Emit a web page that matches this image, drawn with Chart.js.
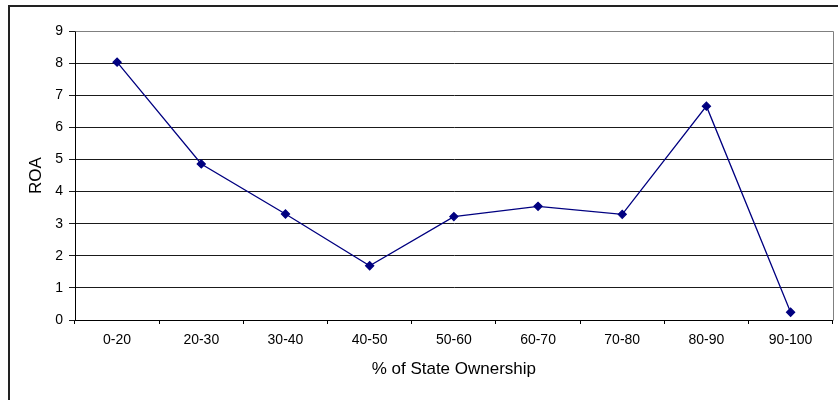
<!DOCTYPE html>
<html>
<head>
<meta charset="utf-8">
<script src="https://cdn.jsdelivr.net/npm/chart.js@4/dist/chart.umd.min.js"></script>
<style>
  body { margin: 0; background: #fff; }
  #frame { position: absolute; left: 8px; top: 5px; width: 900px; height: 500px;
           border-left: 2px solid #222; border-top: 2px solid #222; }
  #roaChart { position: absolute; left: 0; top: 0; }
</style>
</head>
<body>
<div id="frame"></div>
<canvas id="roaChart" width="838" height="400"></canvas>
<script>
var ownershipBands = ["0-20", "20-30", "30-40", "40-50", "50-60", "60-70", "70-80", "80-90", "90-100"];
var roaValues = [8.03, 4.86, 3.30, 1.69, 3.22, 3.54, 3.29, 6.66, 0.24];
var yTicks = [0, 1, 2, 3, 4, 5, 6, 7, 8, 9];

// gray plot-area frame (top/right edges), like Excel
var plotFrame = {
  id: 'plotFrame',
  beforeDatasetsDraw: function (chart) {
    var a = chart.chartArea;
    var ctx = chart.ctx;
    ctx.save();
    ctx.strokeStyle = '#808080';
    ctx.lineWidth = 1;
    ctx.beginPath();
    ctx.moveTo(Math.round(a.left) + 0.5, Math.round(a.top) + 0.5);
    ctx.lineTo(Math.round(a.right) + 0.5, Math.round(a.top) + 0.5);
    ctx.lineTo(Math.round(a.right) + 0.5, Math.round(a.bottom) + 0.5);
    ctx.stroke();
    ctx.restore();
  }
};

Chart.defaults.font.family = "'Liberation Sans', Arial, sans-serif";
Chart.defaults.color = '#000';

var ctx = document.getElementById("roaChart");
var roaChart = new Chart(ctx, {
  type: 'line',
  data: {
    labels: ownershipBands,
    datasets: [{
      data: roaValues,
      borderColor: '#000080',
      backgroundColor: '#000080',
      borderWidth: 1.3,
      pointStyle: 'rectRot',
      pointRadius: 4,
      pointHoverRadius: 4,
      tension: 0
    }]
  },
  plugins: [plotFrame],
  options: {
    responsive: false,
    animation: false,
    layout: { padding: { left: 0, top: 31, right: 3, bottom: 0 } },
    plugins: {
      legend: { display: false },
      tooltip: { enabled: false }
    },
    scales: {
      x: {
        offset: true,
        grid: { offset: true, drawOnChartArea: false, drawTicks: true, tickLength: 4, color: '#000' },
        border: { color: '#000', width: 1 },
        ticks: { font: { size: 14 }, padding: 8, maxRotation: 0 },
        title: { display: true, text: '% of State Ownership', font: { size: 17 }, padding: { top: 0, bottom: 20 } },
        afterFit: function (scale) { scale.height = 80; }
      },
      y: {
        min: 0,
        max: 9,
        afterBuildTicks: function (scale) {
          scale.ticks = yTicks.map(function (v) { return { value: v }; });
        },
        grid: { color: '#1a1a1a', lineWidth: 1, drawTicks: true, tickLength: 6 },
        border: { color: '#000', width: 1 },
        ticks: { font: { size: 14 }, padding: 6 },
        title: { display: true, text: 'ROA', font: { size: 17 }, padding: { top: 26, bottom: 0 } },
        afterFit: function (scale) { scale.width = 75; }
      }
    }
  }
});
</script>
</body>
</html>
